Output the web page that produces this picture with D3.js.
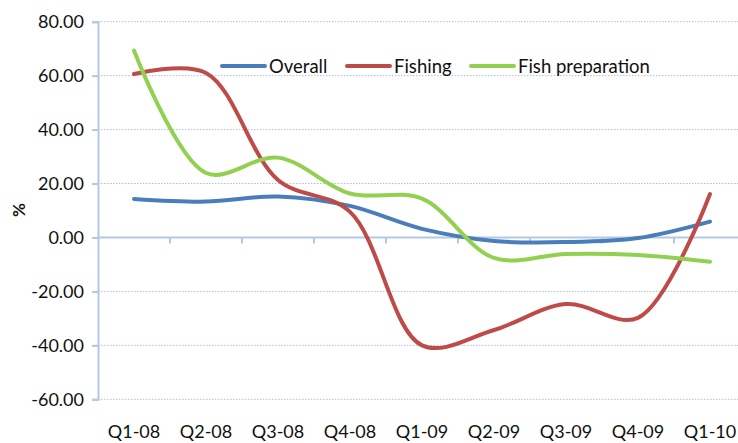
<!DOCTYPE html>
<html>
<head>
<meta charset="utf-8">
<script src="https://cdn.jsdelivr.net/npm/d3@7"></script>
<style>
  html, body { margin: 0; padding: 0; background: #fff; }
  svg { display: block; }
  text { font-family: Lato, "Open Sans", sans-serif; fill: #111; }
</style>
</head>
<body>
<svg id="chart" width="738" height="443"></svg>
<script>
// Quarterly change (%) by sector
const quarters = ["Q1-08", "Q2-08", "Q3-08", "Q4-08", "Q1-09", "Q2-09", "Q3-09", "Q4-09", "Q1-10"];
const overall = [14.3, 13.3, 15.2, 11.7, 3.2, -1.3, -1.7, -0.2, 5.9];
const fishing = [60.6, 61.0, 21.3, 9.5, -40.0, -34.3, -24.7, -29.8, 16.1];
const fishPreparation = [69.3, 23.9, 29.6, 16.3, 14.4, -7.6, -6.1, -6.5, -9.0];
const seriesNames = ["Overall", "Fishing", "Fish preparation"];
const yTicks = [-60, -40, -20, 0, 20, 40, 60, 80];

const colors = ["#4A7EBB", "#BE4B48", "#92D050"];
const seriesValues = [overall, fishing, fishPreparation];

const svg = d3.select("#chart");
const plotLeft = 98, plotRight = 746, plotTop = 21.7, plotBottom = 399.3;

const x = d3.scaleBand().domain(quarters).range([plotLeft, plotRight]).paddingInner(0).paddingOuter(0);
const y = d3.scaleLinear().domain([-60, 80]).range([plotBottom, plotTop]);

const axisColor = "#B3C8E3";

// horizontal dotted gridlines
svg.append("g")
  .selectAll("line")
  .data(yTicks.filter(d => d !== 0))
  .join("line")
  .attr("x1", plotLeft).attr("x2", 738)
  .attr("y1", d => y(d)).attr("y2", d => y(d))
  .attr("stroke", "#A9C0E0")
  .attr("stroke-width", 1)
  .attr("stroke-dasharray", "1.5,1.5");

// y axis, labels with a plain hyphen for negatives
const yAxis = svg.append("g")
  .attr("transform", `translate(${plotLeft},0)`)
  .call(d3.axisLeft(y).tickValues(yTicks).tickSize(6).tickPadding(8)
    .tickFormat(d => (d < 0 ? "-" : "") + Math.abs(d).toFixed(2)));
yAxis.select(".domain").attr("stroke", axisColor).attr("stroke-width", 2);
yAxis.selectAll(".tick line").attr("stroke", axisColor).attr("stroke-width", 2);
yAxis.selectAll(".tick text")
  .style("font-size", "18px")
  .style("font-family", "Lato, sans-serif")
  .attr("fill", "#111");

// x axis crossing at zero, ticks between categories
const xAxisG = svg.append("g").attr("transform", `translate(0,${y(0)})`);
xAxisG.append("line")
  .attr("x1", plotLeft).attr("x2", 738)
  .attr("stroke", axisColor).attr("stroke-width", 2);
xAxisG.selectAll("line.tk")
  .data(quarters.slice(1))
  .join("line")
  .attr("class", "tk")
  .attr("x1", d => x(d)).attr("x2", d => x(d))
  .attr("y1", 0).attr("y2", 6)
  .attr("stroke", axisColor).attr("stroke-width", 2);

// category labels along the bottom
svg.append("g")
  .selectAll("text")
  .data(quarters)
  .join("text")
  .attr("x", d => x(d) + x.bandwidth() / 2)
  .attr("y", 438)
  .attr("text-anchor", "middle")
  .style("font-size", "18px")
  .text(d => d);

// y axis title
svg.append("text")
  .attr("transform", "translate(25,210) rotate(-90)")
  .attr("text-anchor", "middle")
  .style("font-size", "17px")
  .style("font-weight", "bold")
  .text("%");

// series lines
const line = d3.line()
  .x((d, i) => x(quarters[i]) + x.bandwidth() / 2)
  .y(d => y(d))
  .curve(d3.curveCatmullRom.alpha(0.5));

svg.append("g")
  .selectAll("path")
  .data(seriesValues)
  .join("path")
  .attr("d", d => line(d))
  .attr("fill", "none")
  .attr("stroke", (d, i) => colors[i])
  .attr("stroke-width", 4)
  .attr("stroke-linecap", "round")
  .attr("stroke-linejoin", "round");

// legend
const legendPos = [222, 347, 471];
const legend = svg.append("g")
  .selectAll("g")
  .data(seriesNames)
  .join("g")
  .attr("transform", (d, i) => `translate(${legendPos[i]},66)`);
legend.append("line")
  .attr("x1", 0).attr("x2", 43)
  .attr("stroke", (d, i) => colors[i])
  .attr("stroke-width", 4)
  .attr("stroke-linecap", "round");
legend.append("text")
  .attr("x", 47)
  .attr("y", 6.5)
  .style("font-size", "18.5px")
  .text(d => d);
</script>
</body>
</html>
